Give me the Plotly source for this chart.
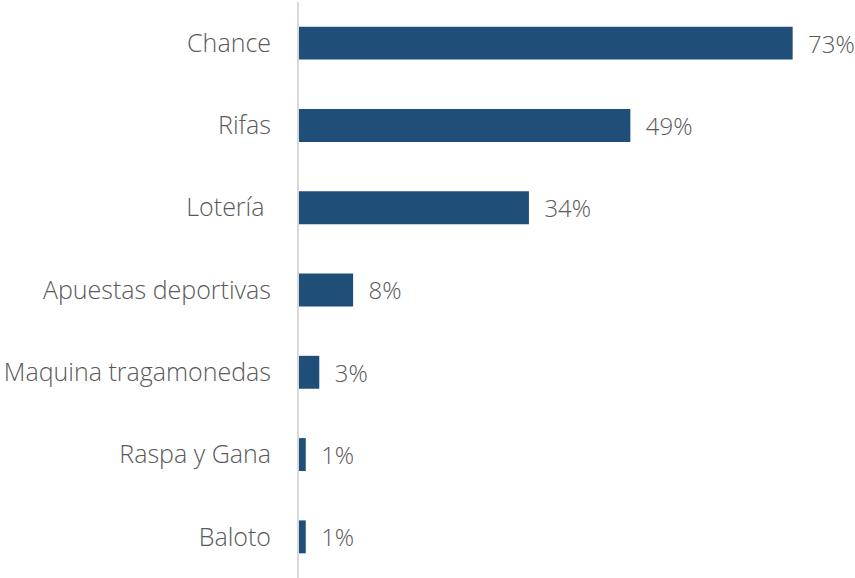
import plotly.graph_objects as go

categories = ["Chance", "Rifas", "Lotería ", "Apuestas deportivas", "Maquina tragamonedas", "Raspa y Gana", "Baloto"]
values = [73, 49, 34, 8, 3, 1, 1]
labels = [f"{v}%" for v in values]

TICKFONT = dict(family="Open Sans", size=25, color="#595959", weight=300)
VALFONT = dict(family="Open Sans", size=24, color="#595959", weight=300)

fig = go.Figure(go.Bar(
    y=categories,
    x=values,
    orientation="h",
    marker=dict(color="#1f4e79", line=dict(width=0)),
    text=["  " + t for t in labels],
    textposition="outside",
    textfont=VALFONT,
    cliponaxis=False,
))

fig.update_layout(
    width=855, height=578,
    margin=dict(l=299, r=15, t=2, b=0, autoexpand=False),
    paper_bgcolor="white", plot_bgcolor="white",
    bargap=0.6,
    showlegend=False,
    font=VALFONT,
    xaxis=dict(range=[0, 80], visible=False, showgrid=False, zeroline=False),
    yaxis=dict(
        autorange="reversed",
        showline=True, linecolor="#d9d9d9", linewidth=2,
        showgrid=False, ticks="", ticklabelstandoff=21,
        tickfont=TICKFONT,
    ),
)

fig.write_html(
    "out.html",
    config={"displayModeBar": False},
    post_script="document.body.style.margin='0';document.body.style.overflow='hidden';",
)
